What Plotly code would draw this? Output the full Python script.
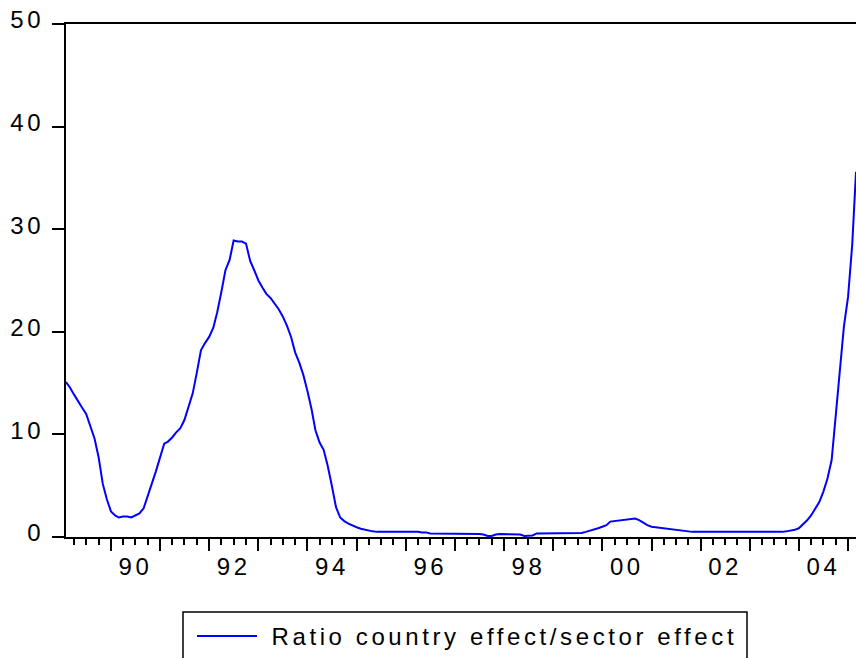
import pandas as pd
import plotly.graph_objects as go

# ---- data (monthly) ----
start_month = "1989-02-01"
y1989 = [15.1, 14.6, 13.9, 13.2, 12.6, 12.0, 10.8, 9.6, 7.8, 5.2, 3.7]
y1990 = [2.5, 2.1, 1.9, 2.0, 2.0, 1.9, 2.1, 2.3, 2.8, 3.9, 5.2, 6.4]
y1991 = [7.7, 9.1, 9.3, 9.7, 10.2, 10.6, 11.4, 12.6, 14.0, 16.0, 18.2, 18.9]
y1992 = [19.5, 20.4, 21.9, 23.9, 26.0, 27.0, 28.9, 28.8, 28.8, 28.6, 26.9, 26.0]
y1993 = [25.0, 24.3, 23.7, 23.3, 22.8, 22.2, 21.5, 20.6, 19.5, 18.0, 17.0, 15.8]
y1994 = [14.2, 12.4, 10.4, 9.2, 8.5, 6.9, 5.0, 2.9, 1.9, 1.55, 1.3, 1.1]
y1995 = [0.95, 0.8, 0.7, 0.6, 0.55, 0.5, 0.5, 0.5, 0.5, 0.5, 0.5, 0.55]
y1996 = [0.55, 0.55, 0.55, 0.5, 0.45, 0.45, 0.35, 0.35, 0.3, 0.3, 0.3, 0.3]
y1997 = [0.3, 0.3, 0.3, 0.3, 0.3, 0.3, 0.3, 0.25, 0.1, 0.1, 0.25, 0.3]
y1998 = [0.3, 0.3, 0.3, 0.3, 0.25, 0.1, 0.1, 0.15, 0.35, 0.35, 0.35, 0.35]
y1999 = [0.35, 0.35, 0.35, 0.35, 0.35, 0.35, 0.35, 0.4, 0.5, 0.6, 0.7, 0.85]
y2000 = [1.0, 1.15, 1.5, 1.55, 1.6, 1.6, 1.65, 1.75, 1.8, 1.65, 1.4, 1.15]
y2001 = [1.0, 0.95, 0.9, 0.8, 0.8, 0.75, 0.7, 0.6, 0.55, 0.5, 0.5, 0.5]
y2002 = [0.5, 0.5, 0.5, 0.5, 0.45, 0.45, 0.45, 0.45, 0.45, 0.45, 0.45, 0.45]
y2003 = [0.45, 0.45, 0.45, 0.45, 0.45, 0.45, 0.45, 0.45, 0.5, 0.55, 0.6, 0.7]
y2004 = [0.85, 1.2, 1.6, 2.1, 2.7, 3.4, 4.4, 5.7, 7.5, 12.0, 16.4, 20.5]
y2005 = [23.4, 28.5, 35.6]

ratio = (y1989 + y1990 + y1991 + y1992 + y1993 + y1994 + y1995 + y1996 +
         y1997 + y1998 + y1999 + y2000 + y2001 + y2002 + y2003 + y2004 + y2005)
months = pd.date_range(start_month, periods=len(ratio), freq="MS")

series_name = "Ratio country effect/sector effect"
x_label_years = [1990, 1992, 1994, 1996, 1998, 2000, 2002, 2004]
x_label_text = ["90", "92", "94", "96", "98", "00", "02", "04"]
y_ticks = [0, 10, 20, 30, 40, 50]

FONT = "Arial, 'Liberation Sans', sans-serif"

fig = go.Figure()
fig.add_trace(go.Scatter(
    x=months, y=ratio, mode="lines", name=series_name,
    line=dict(color="#0000FF", width=2), showlegend=False,
))
# empty trace so the label axis is drawn
fig.add_trace(go.Scatter(x=[], y=[], xaxis="x2", showlegend=False, hoverinfo="skip"))

x_range = ["1989-02-01", "2005-03-01"]

fig.update_layout(
    width=856, height=658,
    margin=dict(l=66, r=0, t=24, b=121),
    paper_bgcolor="white", plot_bgcolor="white",
    font=dict(family=FONT, size=24, color="black"),
    xaxis=dict(
        range=x_range, type="date",
        showgrid=False, zeroline=False,
        showline=True, linecolor="black", linewidth=2, mirror=True,
        ticks="outside", ticklen=12, tickwidth=2, tickcolor="black",
        tick0="1990-01-01", dtick="M12",
        showticklabels=False,
        minor=dict(ticks="outside", ticklen=6, tickwidth=2, tickcolor="black",
                   dtick="M3", tick0="1990-01-01", showgrid=False),
    ),
    xaxis2=dict(
        range=x_range, type="date", overlaying="x", anchor="y", side="bottom",
        showgrid=False, zeroline=False, showline=False, ticks="",
        tickmode="array",
        tickvals=[f"{yr}-07-02" for yr in x_label_years],
        ticktext=x_label_text,
        tickfont=dict(family=FONT, size=24, color="black"),
        ticklabelstandoff=13,
    ),
    yaxis=dict(
        range=[0, 50], showgrid=False, zeroline=False,
        showline=True, linecolor="black", linewidth=2,
        ticks="outside", ticklen=12, tickwidth=2, tickcolor="black",
        tickmode="array", tickvals=y_ticks,
        tickfont=dict(family=FONT, size=24, color="black"),
        ticklabelstandoff=3, ticklabelshift=-4,
    ),
)

# legend drawn as a box with sample line and label (paper coords of the plot area)
def px_to_paper_x(px):
    return (px - 66) / 790.0

def py_to_paper_y(py):
    return (537 - py) / 513.0

fig.add_shape(type="rect", xref="paper", yref="paper",
              x0=px_to_paper_x(183), x1=px_to_paper_x(747),
              y0=py_to_paper_y(612), y1=py_to_paper_y(720),
              line=dict(color="black", width=1.5), fillcolor="white")
fig.add_shape(type="line", xref="paper", yref="paper",
              x0=px_to_paper_x(197), x1=px_to_paper_x(257),
              y0=py_to_paper_y(636), y1=py_to_paper_y(636),
              line=dict(color="#0000FF", width=2))
fig.add_annotation(xref="paper", yref="paper",
                   x=px_to_paper_x(268), y=py_to_paper_y(636),
                   xanchor="left", yanchor="middle", showarrow=False,
                   align="left",
                   text=series_name,
                   font=dict(family=FONT, size=24, color="black"))

post = """
var gd = document.getElementById('{plot_id}');
gd.querySelectorAll('text').forEach(function(t){
  t.style.letterSpacing = '3.6px';
  if (t.classList.contains('annotation-text')) {
    t.setAttribute('text-anchor', 'start');
    var bb = t.parentNode.parentNode.querySelector('rect.bg');
    if (bb) { t.setAttribute('x', parseFloat(bb.getAttribute('x') || 0) + 3); }
  }
});
"""

fig.write_html("out.html", config={"displayModeBar": False}, post_script=post)
